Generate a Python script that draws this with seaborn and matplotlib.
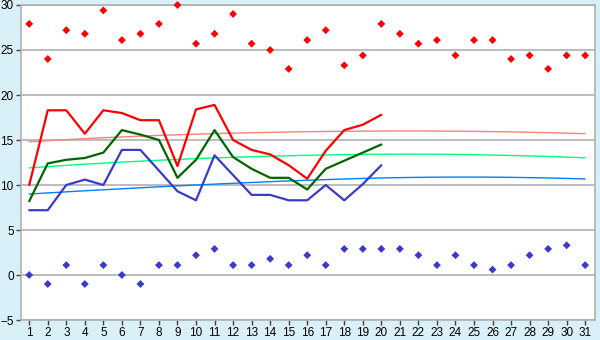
import numpy as np
import pandas as pd
import seaborn as sns
import matplotlib
matplotlib.use('Agg')
import matplotlib.pyplot as plt

# daily values, 1..31
days = list(range(1, 32))

max_pts = [27.9, 24.0, 27.2, 26.8, 29.4, 26.1, 26.8, 27.9, 30.0, 25.7,
           26.8, 29.0, 25.7, 25.0, 22.9, 26.1, 27.2, 23.3, 24.4, 27.9,
           26.8, 25.7, 26.1, 24.4, 26.1, 26.1, 24.0, 24.4, 22.9, 24.4, 24.4]
min_pts = [0.0, -1.0, 1.1, -1.0, 1.1, 0.0, -1.0, 1.1, 1.1, 2.2,
           2.9, 1.1, 1.1, 1.8, 1.1, 2.2, 1.1, 2.9, 2.9, 2.9,
           2.9, 2.2, 1.1, 2.2, 1.1, 0.6, 1.1, 2.2, 2.9, 3.3, 1.1]

# measured lines, days 1..20
line_days = list(range(1, 21))
high_line = [10.0, 18.3, 18.3, 15.7, 18.3, 18.0, 17.2, 17.2, 12.1, 18.4,
             18.9, 15.0, 13.9, 13.4, 12.2, 10.7, 13.8, 16.1, 16.7, 17.8]
mean_line = [8.2, 12.4, 12.8, 13.0, 13.6, 16.1, 15.6, 15.0, 10.8, 12.8,
             16.1, 13.1, 11.8, 10.8, 10.8, 9.5, 11.8, 12.7, 13.6, 14.5]
low_line = [7.2, 7.2, 10.0, 10.6, 10.0, 13.9, 13.9, 11.6, 9.3, 8.3,
            13.3, 11.1, 8.9, 8.9, 8.3, 8.3, 10.0, 8.3, 10.1, 12.2]

# long term averages
high_norm = [14.8, 14.92, 15.04, 15.15, 15.25, 15.34, 15.43, 15.51, 15.58, 15.65,
             15.71, 15.76, 15.81, 15.85, 15.89, 15.92, 15.95, 15.97, 15.98, 15.99,
             16.0, 16.0, 15.99, 15.98, 15.96, 15.93, 15.9, 15.86, 15.81, 15.76, 15.7]
mean_norm = [11.9, 12.04, 12.18, 12.31, 12.43, 12.54, 12.65, 12.75, 12.84, 12.93,
             13.01, 13.08, 13.14, 13.2, 13.25, 13.3, 13.34, 13.37, 13.4, 13.42,
             13.43, 13.43, 13.42, 13.4, 13.37, 13.33, 13.28, 13.23, 13.17, 13.1, 13.02]
low_norm = [9.0, 9.12, 9.24, 9.36, 9.47, 9.58, 9.69, 9.8, 9.9, 10.0,
            10.1, 10.19, 10.28, 10.37, 10.45, 10.53, 10.6, 10.67, 10.73, 10.78,
            10.82, 10.85, 10.87, 10.88, 10.88, 10.87, 10.85, 10.82, 10.78, 10.73, 10.67]

df_pts = pd.DataFrame({'day': days, 'max': max_pts, 'min': min_pts,
                       'hn': high_norm, 'mn': mean_norm, 'ln': low_norm})
df_line = pd.DataFrame({'day': line_days, 'high': high_line,
                        'mean': mean_line, 'low': low_line})

sns.set_style('white')
plt.rcParams['font.family'] = ['Liberation Sans', 'DejaVu Sans']

fig = plt.figure(figsize=(6, 3.4), dpi=100, facecolor='#daf0f8')
ax = fig.add_axes([0.0345, 0.0588, 0.9575, 0.9265])
ax.set_facecolor('white')

grid_col = '#b0b0b0'
for v in range(-5, 31, 5):
    ax.axhline(v, color=grid_col, lw=1.2, zorder=0)

# normals
sns.lineplot(data=df_pts, x='day', y='hn', color='#ff8080', lw=1, ax=ax)
sns.lineplot(data=df_pts, x='day', y='mn', color='#00ff80', lw=1, ax=ax)
sns.lineplot(data=df_pts, x='day', y='ln', color='#0080ff', lw=1, ax=ax)

# measured
sns.lineplot(data=df_line, x='day', y='high', color='#ff0000', lw=1.6, ax=ax)
sns.lineplot(data=df_line, x='day', y='mean', color='#006400', lw=1.6, ax=ax)
sns.lineplot(data=df_line, x='day', y='low', color='#3a3acc', lw=1.6, ax=ax)

# extremes
for col, c in [('max', '#ff0000'), ('min', '#3a3acc')]:
    sc = sns.scatterplot(data=df_pts, x='day', y=col, marker='D', s=16, color=c,
                         edgecolor='none', ax=ax, zorder=5)
for coll in ax.collections:
    coll.set_clip_on(False)

ax.set_xlim(0.54, 31.54)
ax.set_ylim(-5, 30)
ax.set_xticks(days)
ax.set_yticks(range(-5, 31, 5))
ax.set_xlabel('')
ax.set_ylabel('')
ax.tick_params(axis='both', labelsize=8.5, length=3.5, width=1, color='#404040',
               direction='out', pad=1.5, labelcolor='black')
ax.tick_params(axis='x', bottom=True)
ax.tick_params(axis='y', left=True)
for s in ax.spines.values():
    s.set_color(grid_col)
    s.set_linewidth(1.2)

fig.savefig('out.png', dpi=100, facecolor=fig.get_facecolor())
